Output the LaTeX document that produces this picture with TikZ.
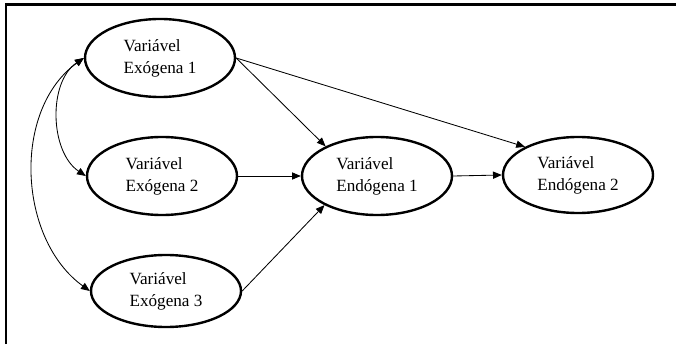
\documentclass[tikz,border=0pt]{standalone}
\usepackage{fontspec}
\setmainfont{Liberation Serif}
\usepackage{tikz}
\usetikzlibrary{positioning, arrows.meta, shapes.geometric}

\begin{document}
\begin{tikzpicture}[
  var/.style={ellipse, draw, line width=1.7pt, minimum width=3.75cm, minimum height=1.95cm,
              inner sep=0pt, align=left, font=\fontsize{12.2}{15.5}\selectfont},
  path/.style={-{Triangle[length=2.2mm, width=1.8mm]}, line width=0.6pt},
  corr/.style={{Triangle[length=2.2mm, width=1.8mm]}-{Triangle[length=2.2mm, width=1.8mm]}, line width=0.6pt},
]
  \useasboundingbox (0,0) rectangle (16.9,8.6);
  % frame (top and left)
  \draw[line width=2pt] (0.15,0) -- (0.15,8.4875) -- (16.9,8.4875);

  \node[var] (exo1) at (4.0, 7.15) {Variável\\Exógena 1};
  \node[var] (exo2) at (4.05, 4.2) {Variável\\Exógena 2};
  \node[var, minimum height=1.8cm] (exo3) at (4.15, 1.325) {Variável\\Exógena 3};
  \node[var] (endo1) at (9.425, 4.2) {Variável\\Endógena 1};
  \node[var, minimum height=1.9cm] (endo2) at (14.45, 4.225) {Variável\\Endógena 2};

  % direct effects
  \draw[path] (exo1.east) -- (endo1.150);
  \draw[path] (exo1.east) -- (endo2.152);
  \draw[path] (exo2.east) -- (endo1.west);
  \draw[path] (exo3.east) -- (endo1.209);
  \draw[path] (endo1.east) -- (endo2.west);

  % correlations
  \draw[corr] (exo1.west) .. controls +(-0.9,-0.6) and +(-0.9,0.6) .. (exo2.west);
  \draw[corr] (exo1.west) .. controls +(-1.8,-1.3) and +(-1.8,1.3) .. (exo3.west);
\end{tikzpicture}
\end{document}
